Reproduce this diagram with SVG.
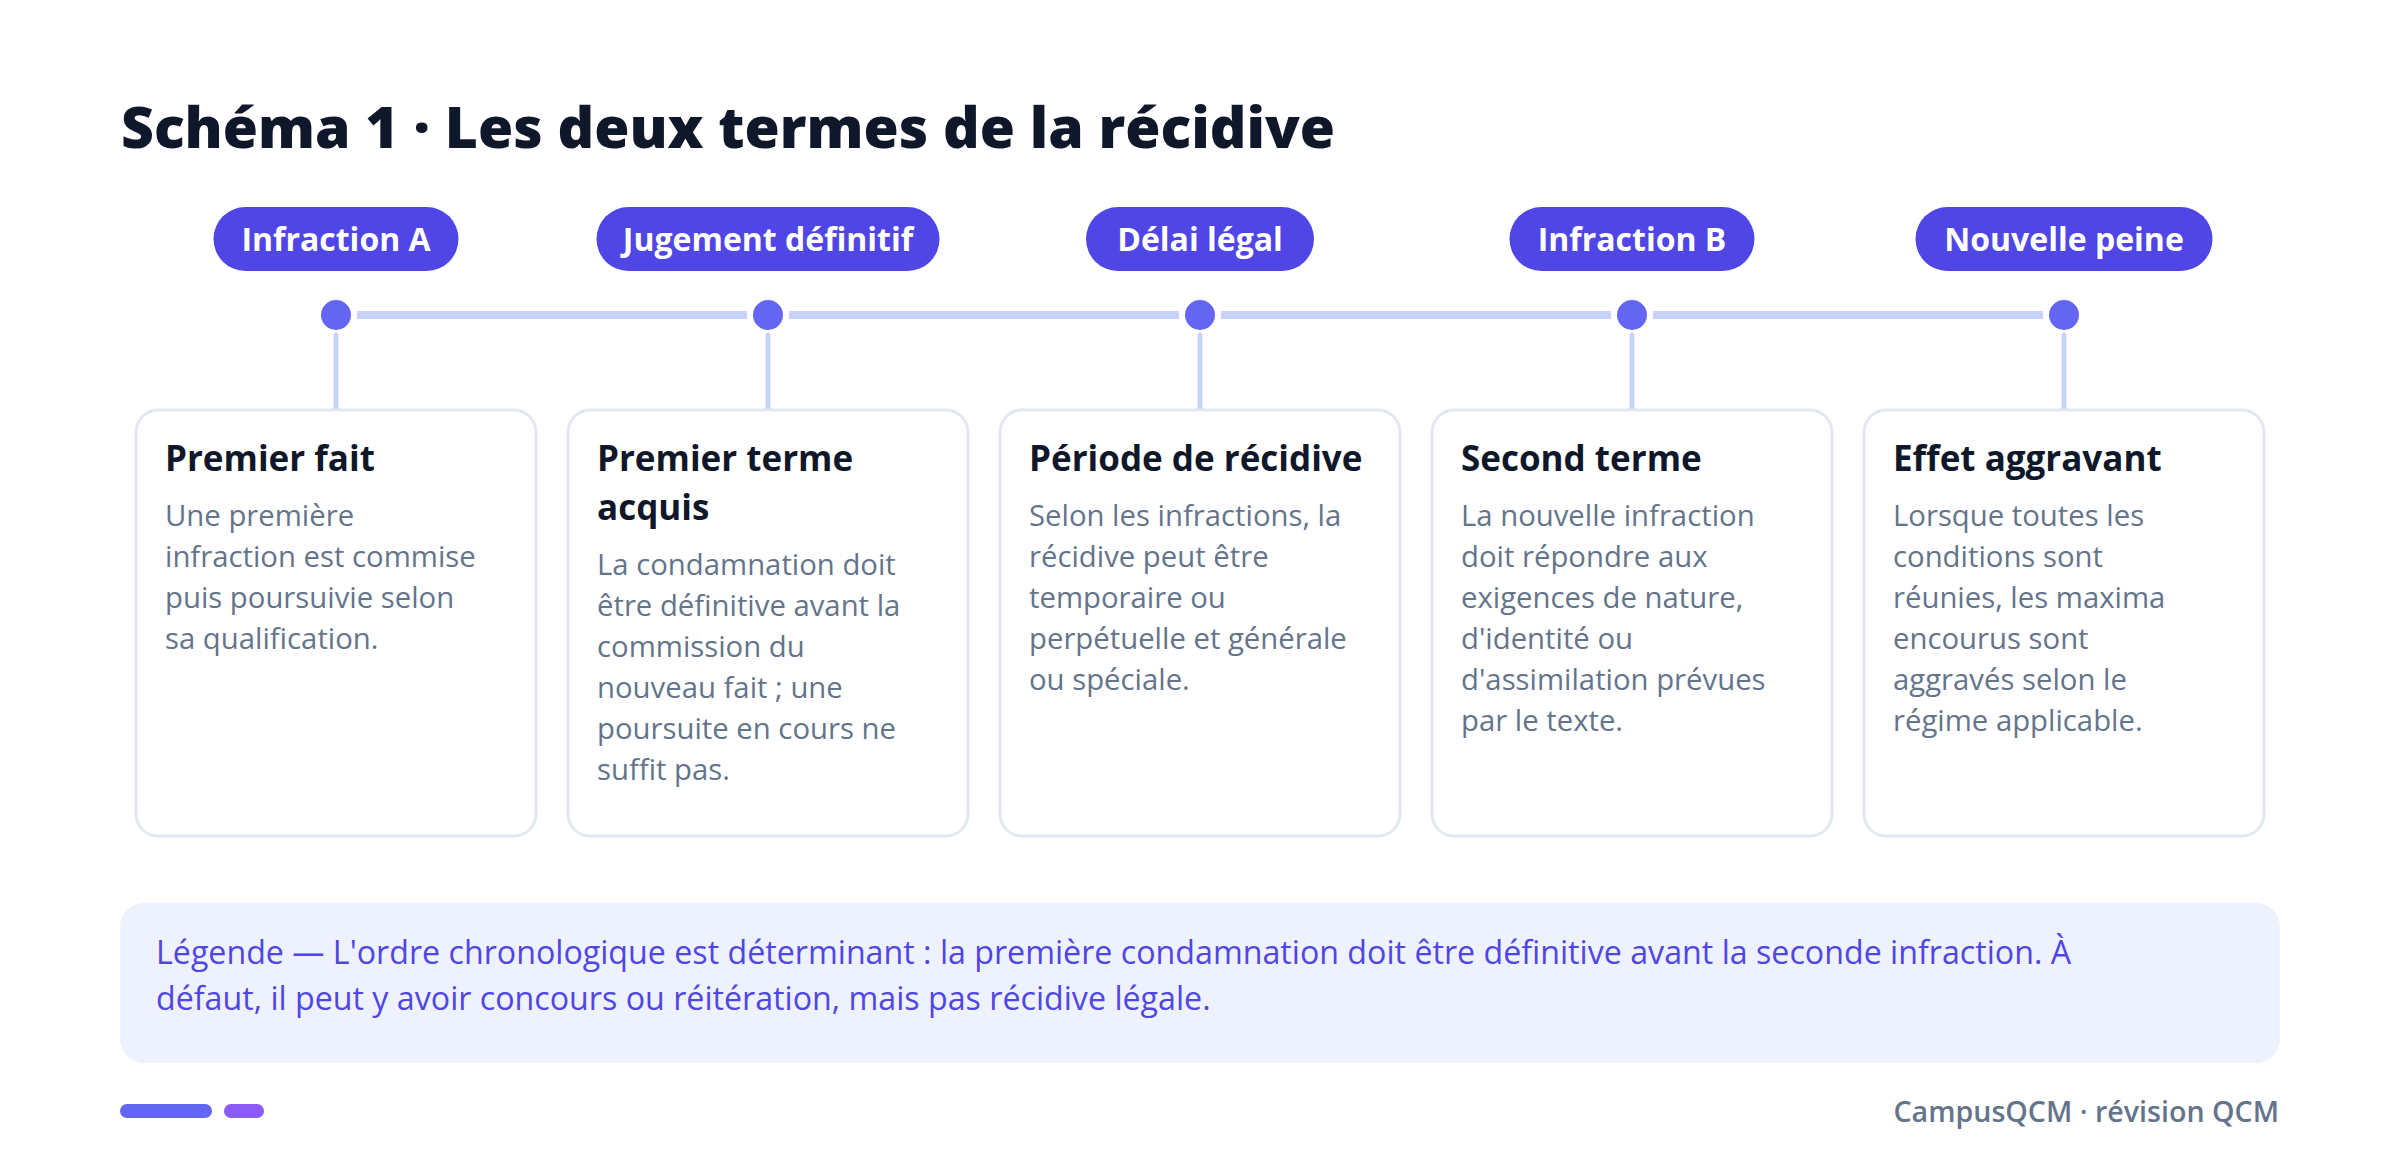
<svg xmlns="http://www.w3.org/2000/svg" width="2400" height="1172" viewBox="0 0 2400 1172">
<style>
.title{font-family:"Open Sans","Noto Sans",sans-serif;font-weight:800;font-size:57px;fill:#0f172a}
.pill{fill:#4f46e5}
.pilltxt{font-family:"Open Sans","Noto Sans",sans-serif;font-weight:700;font-size:32px;fill:#ffffff;text-anchor:middle}
.dot{fill:#6366f1}
.track{stroke:#c7d2fe;stroke-width:8;fill:none}
.stem{stroke:#c7d2fe;stroke-width:5;fill:none}
.card{fill:#ffffff;stroke:#e2e8f0;stroke-width:3}
.ctitle{font-family:"Open Sans","Noto Sans",sans-serif;font-weight:700;font-size:35px;fill:#0f172a}
.cbody{font-family:"Open Sans","Noto Sans",sans-serif;font-weight:400;font-size:29.3px;fill:#64748b}
.legend{fill:#eef2ff}
.legtxt{font-family:"Open Sans","Noto Sans",sans-serif;font-weight:400;font-size:32.2px;fill:#4f46e5}
.footer{font-family:"Open Sans","Noto Sans",sans-serif;font-weight:600;font-size:28.6px;fill:#64748b;text-anchor:end}
</style>
<rect width="2400" height="1172" fill="#ffffff"/>
<text class="title" x="121" y="148">Schéma 1 · Les deux termes de la récidive</text>

<g id="connectors">
<line class="track" x1="357" y1="315" x2="747" y2="315"/>
<line class="track" x1="789" y1="315" x2="1179" y2="315"/>
<line class="track" x1="1221" y1="315" x2="1611" y2="315"/>
<line class="track" x1="1653" y1="315" x2="2043" y2="315"/>
<line class="stem" x1="336" y1="333" x2="336" y2="410"/>
<line class="stem" x1="768" y1="333" x2="768" y2="410"/>
<line class="stem" x1="1200" y1="333" x2="1200" y2="410"/>
<line class="stem" x1="1632" y1="333" x2="1632" y2="410"/>
<line class="stem" x1="2064" y1="333" x2="2064" y2="410"/>
</g>

<g id="step1">
<rect class="pill" x="213.5" y="207" width="245" height="64" rx="32"/>
<text class="pilltxt" x="336" y="251">Infraction A</text>
<circle class="dot" cx="336" cy="315" r="15"/>
<rect class="card" x="136" y="410" width="400" height="426" rx="22"/>
<text class="ctitle" x="165" y="471">Premier fait</text>
<text class="cbody" x="165" y="526">Une première</text>
<text class="cbody" x="165" y="567">infraction est commise</text>
<text class="cbody" x="165" y="608">puis poursuivie selon</text>
<text class="cbody" x="165" y="649">sa qualification.</text>
</g>

<g id="step2">
<rect class="pill" x="596.5" y="207" width="343" height="64" rx="32"/>
<text class="pilltxt" x="768" y="251">Jugement définitif</text>
<circle class="dot" cx="768" cy="315" r="15"/>
<rect class="card" x="568" y="410" width="400" height="426" rx="22"/>
<text class="ctitle" x="597" y="471">Premier terme</text>
<text class="ctitle" x="597" y="520">acquis</text>
<text class="cbody" x="597" y="575">La condamnation doit</text>
<text class="cbody" x="597" y="616">être définitive avant la</text>
<text class="cbody" x="597" y="657">commission du</text>
<text class="cbody" x="597" y="698">nouveau fait ; une</text>
<text class="cbody" x="597" y="739">poursuite en cours ne</text>
<text class="cbody" x="597" y="780">suffit pas.</text>
</g>

<g id="step3">
<rect class="pill" x="1086" y="207" width="228" height="64" rx="32"/>
<text class="pilltxt" x="1200" y="251">Délai légal</text>
<circle class="dot" cx="1200" cy="315" r="15"/>
<rect class="card" x="1000" y="410" width="400" height="426" rx="22"/>
<text class="ctitle" x="1029" y="471">Période de récidive</text>
<text class="cbody" x="1029" y="526">Selon les infractions, la</text>
<text class="cbody" x="1029" y="567">récidive peut être</text>
<text class="cbody" x="1029" y="608">temporaire ou</text>
<text class="cbody" x="1029" y="649">perpétuelle et générale</text>
<text class="cbody" x="1029" y="690">ou spéciale.</text>
</g>

<g id="step4">
<rect class="pill" x="1509.5" y="207" width="245" height="64" rx="32"/>
<text class="pilltxt" x="1632" y="251">Infraction B</text>
<circle class="dot" cx="1632" cy="315" r="15"/>
<rect class="card" x="1432" y="410" width="400" height="426" rx="22"/>
<text class="ctitle" x="1461" y="471">Second terme</text>
<text class="cbody" x="1461" y="526">La nouvelle infraction</text>
<text class="cbody" x="1461" y="567">doit répondre aux</text>
<text class="cbody" x="1461" y="608">exigences de nature,</text>
<text class="cbody" x="1461" y="649">d'identité ou</text>
<text class="cbody" x="1461" y="690">d'assimilation prévues</text>
<text class="cbody" x="1461" y="731">par le texte.</text>
</g>

<g id="step5">
<rect class="pill" x="1915.5" y="207" width="297" height="64" rx="32"/>
<text class="pilltxt" x="2064" y="251">Nouvelle peine</text>
<circle class="dot" cx="2064" cy="315" r="15"/>
<rect class="card" x="1864" y="410" width="400" height="426" rx="22"/>
<text class="ctitle" x="1893" y="471">Effet aggravant</text>
<text class="cbody" x="1893" y="526">Lorsque toutes les</text>
<text class="cbody" x="1893" y="567">conditions sont</text>
<text class="cbody" x="1893" y="608">réunies, les maxima</text>
<text class="cbody" x="1893" y="649">encourus sont</text>
<text class="cbody" x="1893" y="690">aggravés selon le</text>
<text class="cbody" x="1893" y="731">régime applicable.</text>
</g>

<g id="legend">
<rect class="legend" x="120" y="903" width="2160" height="160" rx="24"/>
<text class="legtxt" x="156" y="964">Légende — L'ordre chronologique est déterminant : la première condamnation doit être définitive avant la seconde infraction. À</text>
<text class="legtxt" x="156" y="1010">défaut, il peut y avoir concours ou réitération, mais pas récidive légale.</text>
</g>

<g id="footer">
<rect x="120" y="1104" width="92" height="14" rx="7" fill="#6366f1"/>
<rect x="224" y="1104" width="40" height="14" rx="7" fill="#8b5cf6"/>
<text class="footer" x="2279" y="1122">CampusQCM · révision QCM</text>
</g>
</svg>
